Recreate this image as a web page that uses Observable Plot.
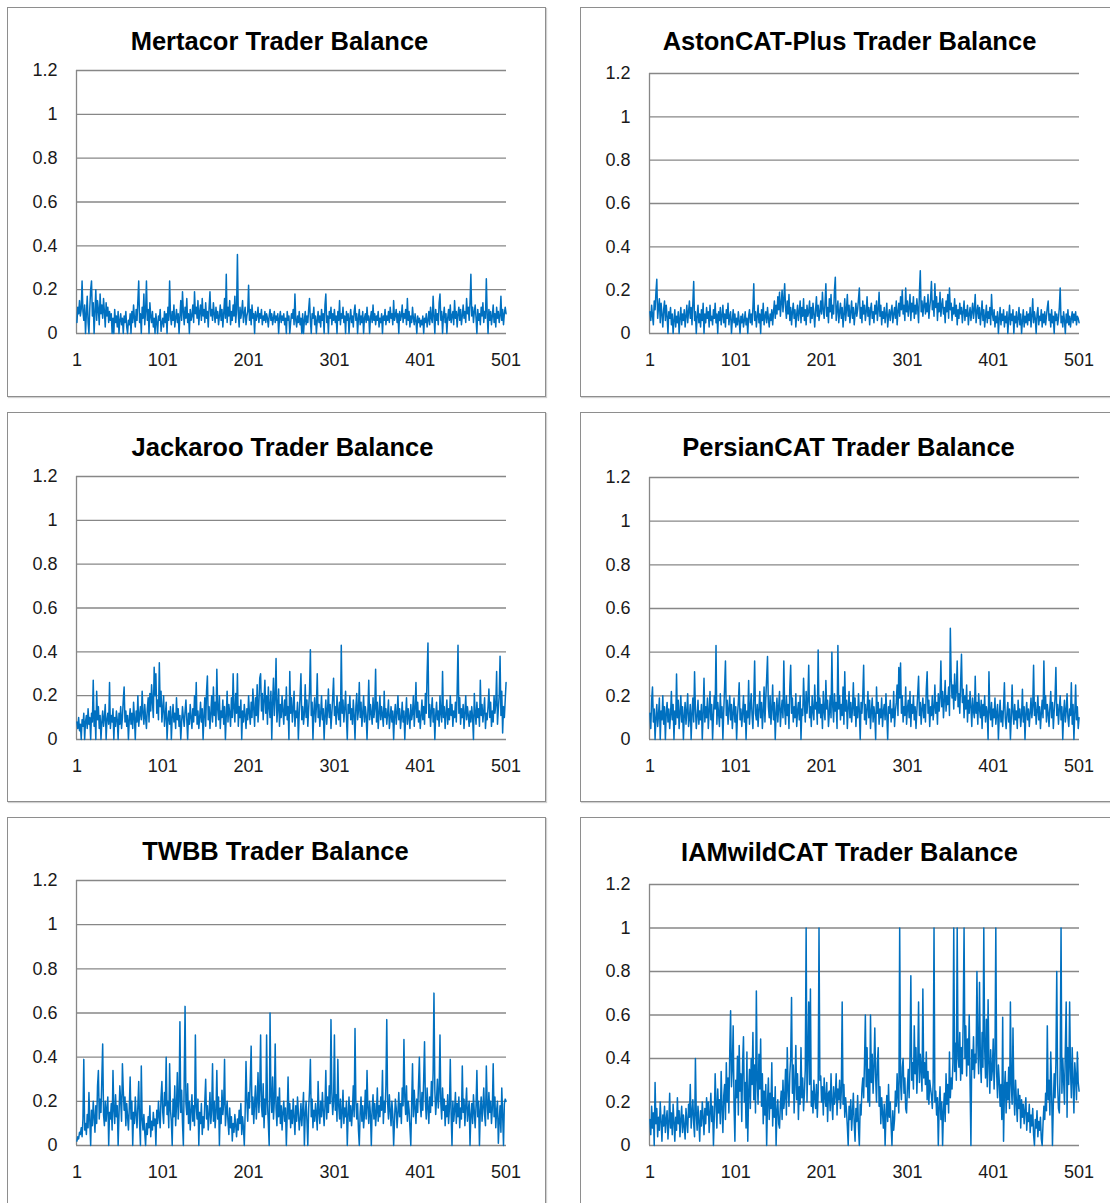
<!DOCTYPE html>
<html><head><meta charset="utf-8">
<script src="https://cdn.jsdelivr.net/npm/d3@7"></script>
<script src="https://cdn.jsdelivr.net/npm/@observablehq/plot@0.6"></script>
<style>
html,body{margin:0;padding:0;background:#fff;width:1110px;height:1203px;overflow:hidden;}
.panel{position:absolute;box-sizing:border-box;width:539px;height:390px;border:1px solid #8e8e8e;box-shadow:1px 1px 1px rgba(0,0,0,0.18);background:#fff;}
.panel svg{position:absolute;left:0;top:0;overflow:visible;}
.title{position:absolute;left:0;width:100%;text-align:center;font-family:"Liberation Sans",Arial,sans-serif;font-weight:bold;font-size:25.5px;line-height:26px;color:#000;white-space:nowrap;}
</style></head><body>
<script>
const titles = ["Mertacor Trader Balance","AstonCAT-Plus Trader Balance","Jackaroo Trader Balance","PersianCAT Trader Balance","TWBB Trader Balance","IAMwildCAT Trader Balance"];
const xTicks = [1,101,201,301,401,501];
const yTicks = [0,0.2,0.4,0.6,0.8,1,1.2];
const yTickLabels = ["0","0.2","0.4","0.6","0.8","1","1.2"];

const mertacor = [
.05,.12,.09,.15,.08,.11,.24,.1,.06,.13,0,.09,.17,.05,0,.12,.2,.24,.08,.14,
0,.1,.2,.06,.15,.11,.04,.18,.09,.13,.07,.16,.1,.03,.14,.08,.12,.05,.1,.06,
.09,0,.07,0,.11,.05,.08,.03,.1,0,.06,.09,.04,.07,0,.08,.05,.1,.03,0,
.06,.04,.09,0,.1,.05,.13,.07,.03,.11,.06,.15,.24,.05,.09,0,.12,.07,.18,.04,
.1,.24,.06,.11,0,.14,.08,.05,.1,.03,.07,0,.09,.05,0,.08,.06,.11,.01,.05,
.07,.03,.1,.05,.09,0,.12,.06,.24,.08,.04,.1,.06,.13,.03,.07,.11,.05,.09,0,
.08,.15,.06,.19,.1,.04,.12,.07,.16,.05,.09,0,.11,.06,.08,.13,.05,.19,.09,.12,
.07,.15,.04,.1,.13,.06,.16,.08,.11,.05,.14,.07,.1,.03,.12,.19,.08,.11,.06,.14,
.09,.05,.12,.07,.1,.04,.08,.13,.06,.11,.03,.09,.16,.07,.27,.05,.12,.08,.15,.04,
.1,.06,.13,.08,.17,.05,.11,.36,.09,.03,.12,.07,.1,.15,.05,.09,.12,.04,.08,.1,
.22,.06,.11,.04,.13,.07,.09,0,.1,.06,.08,.12,.05,.09,.07,.11,.04,.08,.06,.1,
.05,.09,.07,.03,.08,.11,.06,.09,.04,.07,.1,.05,.08,.06,.09,0,.07,.1,.05,.08,
.06,.09,.04,.07,0,.1,.06,.08,0,.05,.09,.07,.11,.04,.18,.06,.03,.08,.05,.1,
.04,.07,0,.09,0,.06,.1,.04,.08,.05,.11,.16,.06,0,.09,.07,.12,.04,.08,0,
.06,.1,.05,.08,.03,.11,.06,.09,0,.13,.18,.05,.08,0,.1,.07,.12,.04,.09,.06,
.11,.05,.08,0,.1,.06,.15,.04,.09,.07,.12,.05,.08,0,.1,.06,.09,0,.07,.11,
.05,.08,.03,.1,.13,.06,.09,0,.07,.11,.04,.08,.05,.1,0,.07,.09,.05,.12,.06,
.08,0,.07,.1,.05,.13,.06,.09,.04,.08,.06,.1,.03,.07,.05,.09,0,.08,.06,.11,
.04,.08,.06,.1,.05,.12,.07,.09,.04,.15,.06,.08,.11,.05,.09,0,.1,.06,.08,.13,
.05,.09,.07,.11,.04,.16,.06,.1,.03,.08,.05,.12,.07,.04,.09,.06,0,.08,.05,.07,
.03,.06,.04,.08,0,.07,.05,.09,.03,.06,.1,.04,.12,.07,.05,.17,.08,0,.11,.06,
.09,.04,.14,.18,.06,.1,0,.08,.12,.05,.09,0,.07,.11,.06,.13,.05,.08,.1,.04,
.15,.07,.1,.03,.09,.12,.06,.11,.04,.08,.13,.07,.1,.05,.16,.09,.12,.06,.14,.27,
.08,.12,.05,.1,.13,.07,0,.11,.06,.09,.04,.12,.08,.14,.05,.1,.07,.25,.09,0,
.11,.06,.1,.04,.08,.13,.05,.09,.03,.12,.07,.1,.05,.08,.17,.06,.11,.04,.09,.12,
.09];

const astonCAT = [
.1,.06,.13,.08,.04,.15,.11,.19,.25,.07,.12,.16,.05,.14,.09,.03,.11,.15,.06,.13,
.08,0,.1,.07,.12,.04,.09,0,.06,.11,.03,.08,.05,.1,0,.07,.12,.04,.09,.06,
.11,.03,.08,.13,.05,.1,.15,.07,.12,.04,.14,.24,.06,.1,0,.08,.13,.05,.09,.03,
.11,.06,.14,0,.09,.05,.12,.07,.1,.03,.13,.06,.08,.04,.11,.07,.14,.05,.09,0,
.1,.06,.12,.04,.08,.13,.05,.09,.03,.11,.07,.14,.04,.08,.1,0,.06,.11,.05,.09,
.03,.07,.04,.1,.06,0,.08,.05,.09,.03,.06,.1,.04,.07,0,.08,.11,.05,.09,.04,
.12,.23,.06,.1,.03,.08,.13,.05,.09,0,.11,.06,.14,.04,.08,.1,.05,.12,.07,.03,
.09,.06,.11,.04,.1,.15,.07,.13,.09,.17,.11,.19,.08,.14,.2,.1,.16,.23,.12,.07,
.15,.09,.18,.06,.12,.04,.1,.14,.07,.11,.03,.09,.13,.06,.1,.15,.05,.12,.08,.16,
.06,.11,.04,.13,.08,.1,.15,.05,.12,.07,.14,.09,.03,.11,.17,.08,.13,.06,.1,.15,
.09,.19,.11,.07,.14,.23,.08,.12,.05,.16,.1,.18,.07,.13,.09,.2,.26,.06,.11,.15,
.05,.1,.14,.07,.12,.03,.09,.16,.06,.11,.18,.08,.13,.05,.1,.15,.07,.12,.04,.09,
.14,.08,.11,.16,.21,.07,.12,.05,.15,.09,.13,.06,.1,.17,.08,.12,.04,.11,.14,.07,
.1,.05,.13,.09,.15,.06,.11,.19,.08,.13,.04,.1,.07,.12,.05,.09,.14,.03,.08,.11,
.06,.1,.13,.05,.09,.12,.07,.15,.04,.1,.14,.08,.17,.11,.2,.09,.13,.06,.21,.1,
.15,.08,.12,.18,.06,.14,.1,.17,.07,.13,.09,.16,.11,.05,.19,.29,.1,.15,.08,.13,
.17,.09,.14,.1,.18,.07,.12,.16,.24,.11,.15,.08,.23,.12,.17,.06,.14,.1,.19,.08,
.13,.16,.09,.12,.05,.15,.1,.18,.07,.21,.11,.14,.06,.12,.09,.16,.08,.13,.04,.11,
.07,.14,.09,.12,.05,.1,.15,.06,.11,.08,.13,.04,.09,.12,.06,.1,.14,.07,.11,.18,
.05,.1,.13,.07,.12,.04,.09,.15,.06,.11,.03,.08,.13,.05,.1,.07,.12,.04,.18,.09,
.06,.11,.03,.08,.05,.1,0,.07,.12,.04,.09,.06,.11,.03,.08,.05,.1,0,.07,.13,
.04,.09,.06,.11,0,.08,.05,.1,.03,.07,.12,.04,.09,0,.06,.11,.03,.08,.05,.1,
.04,.09,.06,.12,.03,.08,.16,.05,.1,.07,0,.09,.12,.04,.08,.06,.11,.03,.09,.05,
.1,.04,.08,.12,.15,.06,.09,.03,.11,.05,.08,0,.1,.06,.09,.04,.07,.12,.21,.05,
.08,.03,.1,.06,0,.09,.05,.11,.04,.08,.03,.07,.1,.05,.09,.06,.1,.04,.08,.07,
.05];

const jackaroo = [
.08,.05,.1,.04,.07,0,.09,.06,.12,0,.08,.11,.05,.14,.07,.1,0,.12,.08,.27,
.06,.13,0,.22,.09,.15,.05,.11,0,.08,.13,.06,.1,.16,0,.09,.12,.07,.26,.05,
.11,.08,.14,0,.1,.06,.13,.09,0,.12,.07,.15,.05,.1,.18,.24,.08,.13,.06,.11,
0,.09,.14,.07,.12,.05,.17,.1,0,.13,.08,.2,.06,.11,.15,.09,.22,.12,.07,.16,
.1,.05,.14,.19,.08,.21,.13,.25,.17,.1,.33,.2,.3,.12,.18,.09,.35,.15,.22,.08,
.14,.2,.06,.11,.17,0,.09,.13,.07,.15,0,.1,.16,.08,.12,.05,.19,.09,.14,.06,
.11,0,.08,.15,.1,.06,.13,.18,.09,0,.12,.07,.16,.1,.05,.14,.08,.2,.11,.26,
.07,.13,.05,.1,.17,.08,.14,0,.11,.19,.06,.22,.29,.09,.15,.05,.12,.2,.08,.24,
.11,.17,.06,.32,.14,.09,.2,.05,.13,.1,.18,.07,.15,0,.11,.22,.08,.16,.12,.06,
.19,.1,.3,.14,.08,.21,.12,.3,.06,.15,.1,.18,0,.13,.08,.16,.11,.05,.14,.09,
.2,.12,.07,.17,.1,.23,.14,.06,.19,.11,.25,.08,.16,.28,.3,.13,.21,.09,.18,.27,
.12,.2,.07,.24,.15,.1,.22,0,.17,.28,.11,.19,.37,.08,.14,.23,.06,.16,.1,.2,
.13,.07,.18,.11,.24,.09,.15,0,.31,.12,.19,.08,.14,.22,.06,.13,.1,.17,0,.12,
.2,.3,.09,.15,.07,.12,.25,.1,.18,.06,.14,.22,.41,.11,.17,0,.13,.19,.08,.15,
.3,.1,.16,.06,.12,.2,.09,.14,0,.11,.18,.07,.13,.23,.1,.16,.05,.12,.19,.28,
.11,.15,.07,.2,.13,.09,.17,.06,.43,.12,.18,.08,.14,.22,.1,0,.16,.12,.2,.09,
.14,.07,.18,.11,0,.15,.21,.09,.13,.26,.1,.17,.06,.12,.2,.08,.15,.11,0,.13,
.27,.09,.16,.12,.07,.19,.1,.14,.32,.08,.17,.05,.12,.2,.09,.15,.11,.06,.22,.1,
.14,.07,.12,.18,.05,.1,.15,.08,.13,0,.11,.16,.07,.12,.2,.09,.14,.05,.1,.17,
.08,.13,0,.11,.19,.07,.14,.1,.05,.16,.09,.12,.2,.06,.14,.26,.1,.17,.08,.13,
.05,.11,.18,.09,.15,.07,.21,.12,.3,.44,.1,.16,.06,.13,.19,.08,.14,0,.11,.17,
.09,.13,.06,.2,.12,.08,.31,.1,.15,.05,.12,.18,.07,.14,.09,.2,.11,.16,.06,.13,
.1,.17,.08,.22,.43,.12,.19,.07,.14,.1,.16,.05,.12,.2,.09,.15,.11,.06,.13,.08,
.15,.1,0,.21,.12,.07,.17,.1,.14,.06,.27,.11,.16,.08,.13,.19,.05,.12,.09,.15,
.23,.1,.17,.06,.13,.08,.2,.12,.16,.31,.07,.14,.2,.38,.11,.22,.03,.15,.1,.18,
.26];

const persianCAT = [
.12,.05,.18,.24,.08,.14,0,.1,.16,.06,.11,.19,0,.13,.09,.2,.07,.15,0,.12,
.17,.08,.14,.05,.11,.22,.09,.16,0,.13,.07,.3,.1,.18,.05,.12,.2,.08,.15,0,
.11,.17,.07,.13,.21,.06,.1,.16,0,.12,.19,.08,.31,.14,.05,.11,.18,.07,.13,.09,
.16,0,.12,.28,.08,.15,.1,.19,.05,.13,.22,.09,.16,0,.11,.2,.14,.43,.07,.17,
.12,.06,.21,.1,.15,0,.13,.24,.36,.11,.18,.07,.14,.2,.09,.16,.05,.12,.19,.08,
.15,0,.11,.17,.26,.09,.14,.06,.12,.2,.08,.16,0,.13,.1,.27,.07,.15,.21,.11,
.05,.18,.36,.12,.09,.16,.06,.14,.22,.1,.17,.05,.13,.24,.08,.19,.28,.38,.15,.1,
.2,.07,.14,.25,.09,.17,0,.12,.19,.08,.15,.22,.06,.13,.18,.1,.36,.14,.07,.2,
.11,.16,.05,.24,.34,.12,.19,.08,.15,.1,.21,.06,.13,.17,.09,.2,0,.14,.11,.28,
.16,.08,.22,.12,.18,.34,.1,.15,.06,.2,.13,.09,.25,.14,.17,.07,.41,.12,.19,.1,
.16,.05,.22,.13,.09,.27,.14,.18,.06,.12,.2,.1,.4,.15,.08,.21,.13,.17,.05,.43,
.14,.2,.09,.16,.11,.24,.07,.31,.13,.18,.05,.15,.22,.1,.17,.08,.14,.26,.11,.19,
.06,.15,.1,.21,.13,0,.17,.12,.2,.34,.09,.16,.07,.14,.22,.1,.18,.05,.13,.19,
.08,.15,.11,0,.24,.12,.17,.07,.14,.1,.19,.06,.13,.16,.09,.21,.11,0,.15,.12,
.18,.08,.14,.1,.22,.06,.13,.17,.25,.11,.33,.19,.35,.12,.2,.08,.15,.11,.24,.07,
.14,.18,.1,.22,.06,.16,.12,.2,.09,.15,.05,.13,.21,.29,.11,.17,.07,.14,.19,.1,
.16,.08,.23,.31,.12,.18,.06,.15,.11,.2,.09,.14,.25,.12,.17,.07,.21,.13,.19,.36,
.15,.22,.1,.18,.27,.13,.2,.16,.24,.11,.51,.28,.19,.25,.14,.3,.18,.22,.36,.15,
.21,.12,.26,.39,.17,.23,.1,.2,.14,.25,.08,.18,.12,.22,.15,.06,.19,.13,.1,.29,
.12,.17,.07,.21,.14,.1,.18,.05,.16,.11,.2,.08,.15,.12,0,.31,.13,.09,.17,.06,
.14,.1,.19,.07,.12,.16,0,.11,.18,.08,.13,.06,.15,.26,.1,.05,.12,.17,.08,.14,
0,.1,.25,.12,.07,.16,.09,.13,.05,.18,.1,.14,.06,.11,.23,.08,.15,0,.12,.17,
.09,.14,.06,.12,.19,.1,.15,.34,.11,.17,.07,.13,.2,.09,.15,.05,.12,.18,.1,.36,
.14,.2,.08,.16,.12,.06,.15,.22,.1,.17,.05,.13,.19,.33,.11,.16,.07,.14,.2,.09,
.15,0,.12,.18,.08,.13,.21,.1,.06,.14,.11,.26,.07,.16,0,.12,.25,.09,.15,.05,
.1];

const twbb = [
.02,.04,.03,.06,.05,.08,.04,.12,.39,.07,.1,.05,.14,.08,.24,.11,0,.16,.09,.2,
.13,.06,.18,.1,.27,.34,.12,.21,.15,.3,.46,.14,.09,.2,.11,.17,.22,0,.15,.12,
.19,.07,.34,.16,.1,.23,.13,.18,0,.14,.27,.2,.11,.37,.25,.16,.22,.09,.19,.13,
.07,.17,.31,.12,.2,0,.15,.1,.22,.14,.08,.18,.29,.1,0,.36,.12,.07,.14,.06,
0,.1,.05,.13,.08,.18,.04,.11,.07,.15,.09,.12,0,.16,.1,.2,.13,.08,.22,.29,
.15,.1,.24,.18,.4,.14,.2,.08,.37,.16,.11,0,.21,.13,.27,.09,.18,.33,.12,.2,
.56,.15,.25,.1,0,.3,.63,.19,.14,.28,.1,.2,.07,.16,.23,.11,.18,.09,.5,.17,
.12,.21,0,.15,.1,.19,.05,.13,.08,.2,.3,.12,.18,.07,.14,.24,.1,.16,.37,.11,
.2,.08,.15,.34,.12,.22,0,.17,.1,.25,.14,.19,.39,.09,.15,.2,.11,.05,.17,.08,
.13,.02,.1,.06,.14,.09,.04,.12,.07,.16,.1,.19,.05,.13,.08,0,.15,.38,.2,.11,
.24,.17,.3,.45,.14,.22,.1,.19,.27,.12,.2,.33,.15,.25,.5,.18,.13,.28,.08,.21,
.14,.5,.19,.1,0,.6,.23,.15,.31,.12,.2,.46,.17,.09,.22,.13,.26,.1,.18,.07,
.15,.2,.11,.17,0,.14,.31,.12,.19,.08,.16,.1,.21,.13,.05,.18,.11,.22,.15,.07,
.12,.19,.09,.16,.24,0,.14,.2,.11,0,.17,.25,.39,.13,.21,.08,.16,.11,.19,.14,
.07,.29,.15,.1,.2,.13,.24,.16,.09,.18,.34,.12,.22,.15,.27,.19,.57,.24,.14,.2,
.5,.16,.23,.11,.39,.18,.12,.21,.08,.15,.25,.1,.17,.13,.2,0,.14,.22,.11,.18,
.09,.16,.27,.13,.53,.2,.12,.19,.07,0,.15,.22,.11,.18,.08,.14,.25,.12,.34,.17,
.1,.2,.14,0,.17,.23,.12,.19,.09,.15,.26,.11,.18,.13,.22,.16,.34,.1,.2,.15,
.27,.57,.19,.12,.23,.16,.09,.2,.14,0,.11,.21,.17,.08,.15,.24,.13,.19,.1,.26,
.18,.48,.22,.14,.27,.11,.2,.16,.08,0,.19,.37,.13,.25,.17,.1,.21,.15,.28,.4,
.19,.13,.24,.16,.3,.47,.2,.12,.26,.17,.1,.22,.15,.29,.18,.33,.69,.25,.14,.21,
.3,.17,.24,.5,.19,.12,.26,.16,.21,.09,.18,.13,.23,.1,.17,.39,.14,0,.2,.11,
.16,.24,.1,.19,.13,.22,.08,.17,.12,.36,.15,.21,.09,.18,.26,.11,.16,.2,0,.14,
.19,.1,.23,.15,.08,.18,.34,.13,.2,0,.16,.22,.11,.17,.26,.14,.09,.36,.19,.12,
.24,.15,.2,.1,.17,.37,.13,.22,.08,.16,.2,.01,.11,.18,.06,.26,.14,0,.19,.21,
.2];

const iamwildCAT = [
.12,.05,.18,.08,.15,0,.29,.1,.17,.04,.13,.07,.2,.11,.02,.14,.09,.18,.06,.12,
.16,.03,.1,.24,.08,.15,.05,.19,.11,.02,.13,.07,.22,.1,.16,.04,.12,.18,.06,.14,
.09,.03,.17,.11,.06,.19,.13,.28,.08,.15,.21,.1,.04,.4,.14,.07,.18,.11,.02,.16,
.09,.2,.13,.05,.17,.1,.22,.14,.2,.06,.15,.24,.11,.18,0,.13,.33,.19,.08,.26,
.15,.21,.1,.34,.17,.06,.23,.28,.12,.38,.2,.31,.15,.43,.62,.27,.36,.55,.18,.02,
.3,.22,.41,.14,.46,.25,.33,.11,.38,.5,.2,.29,.08,.43,.02,.24,.35,.17,.4,.28,
.52,.21,.37,.15,.71,.3,.19,.42,.26,.49,.18,.33,.1,.25,.14,.28,0,.2,.31,.12,
.24,.17,.38,.09,.22,.13,.27,0,.16,.21,.1,.08,.19,.25,.12,.3,.17,.22,.35,.14,
.45,.26,.18,.33,.4,.68,.24,.37,.15,.29,.46,.21,.33,.12,.27,.19,.45,.22,.31,.16,
.24,.35,1,.2,.4,.66,.28,.72,.18,.25,.15,.3,.22,.17,.28,.13,.24,1,.3,.32,
.2,.27,.14,.31,.22,.18,.29,.11,.24,.25,.16,.33,.2,.12,.27,.19,.23,.33,.14,.26,
.21,.3,.17,.25,.66,.19,.28,.13,.22,.16,.09,0,.18,.12,.21,.07,.15,.24,.1,.02,
.17,.11,.23,.08,0,.19,.14,.26,.31,.22,.38,.6,.27,.45,.2,.35,.18,.6,.29,.42,
.24,.36,.54,.31,.2,.38,.45,.18,.27,.1,.22,.15,.08,.19,0,.14,.23,.11,.28,.13,
.2,.09,0,.16,.07,.12,.25,.18,.33,.22,.15,1,.29,.21,.36,.4,.24,.31,.17,.15,
.27,.35,.22,.41,.78,.3,.38,.26,.55,.33,.45,.24,.37,.66,.29,.42,.35,.25,.72,.31,
.38,.28,.43,.21,.34,.19,.3,.26,.23,.17,.29,1,.2,.25,.14,.22,0,.18,.27,.12,
.2,0,.16,.24,.11,.33,.19,.28,.15,.43,.22,.31,.26,.38,1,.34,.47,.3,1,.41,
.36,.52,.3,.45,.33,.58,1,.4,.55,.32,.49,.37,.6,.28,0,.44,.35,.5,.31,.42,
.38,.8,.46,.33,.75,.4,.29,.52,.36,1,.45,.31,.58,.27,.67,.38,.24,.44,.3,.35,
.49,.26,.4,1,.33,.22,.37,.3,.18,.28,.12,.59,.02,.25,.34,.15,.29,.21,.36,.17,
.66,.28,.19,.54,.24,.14,.3,.2,.11,.26,.17,.23,.08,.21,.13,.19,.1,.16,.22,.07,
.15,.11,.19,.06,.14,.09,.17,.05,0,.12,.08,.16,.04,.11,.07,.13,.03,0,.1,.18,
.12,.24,.16,.55,.21,.3,.14,.43,.26,0,.19,.33,.22,.38,.8,.28,.17,.15,.36,1,
.24,.4,.3,.19,.45,.66,.13,.45,.28,.66,.35,.22,.45,.3,.15,.38,.32,.21,.43,.29,
.25];

const seriesList = [mertacor, astonCAT, jackaroo, persianCAT, twbb, iamwildCAT];

// panel boxes and plot-area placement (pixels)
const panels = [
  {left: 7,   top: 7,   mt: 62, mb: 63, titleY: 41,  dx: 3},
  {left: 580, top: 7,   mt: 65, mb: 63, titleY: 41,  dx: 0},
  {left: 7,   top: 412, mt: 63, mb: 62, titleY: 447, dx: 6},
  {left: 580, top: 412, mt: 64, mb: 62, titleY: 447, dx: -1},
  {left: 7,   top: 817, mt: 62, mb: 61, titleY: 851, dx: -1},
  {left: 580, top: 817, mt: 66, mb: 61, titleY: 852, dx: 0}
];

const W = 537, H = 388;
const gridColor = "#878787";

panels.forEach((p, k) => {
  const div = document.createElement("div");
  div.className = "panel";
  div.style.left = p.left + "px";
  div.style.top = p.top + "px";
  document.body.appendChild(div);

  const data = seriesList[k].map((v, i) => ({t: i + 1, v}));

  const chart = Plot.plot({
    width: W,
    height: H,
    marginLeft: 68,
    marginRight: 39,
    marginTop: p.mt,
    marginBottom: p.mb,
    x: {domain: [0.5, 501.5]},
    y: {domain: [0, 1.2]},
    style: {fontFamily: '"Liberation Sans", Arial, sans-serif', fontSize: "18px", color: "#1a1a1a", background: "transparent", overflow: "visible"},
    marks: [
      Plot.ruleY(yTicks, {stroke: gridColor, strokeWidth: 1.3}),
      Plot.ruleX([0.5], {stroke: gridColor, strokeWidth: 1.3}),
      Plot.line(data, {x: "t", y: "v", stroke: "#0070C0", strokeWidth: 1.5}),
      Plot.axisX({ticks: xTicks, tickSize: 0, tickPadding: 20, tickFormat: d => String(d), label: null}),
      Plot.axisY({ticks: yTicks, tickSize: 0, tickPadding: 19, tickFormat: d => yTickLabels[yTicks.indexOf(d)], label: null})
    ]
  });
  div.appendChild(chart);

  const t = document.createElement("div");
  t.className = "title";
  t.textContent = titles[k];
  t.style.top = (p.titleY - p.top - 1 - 12.7) + "px";
  t.style.left = p.dx + "px";
  div.appendChild(t);
});
</script>
</body></html>
